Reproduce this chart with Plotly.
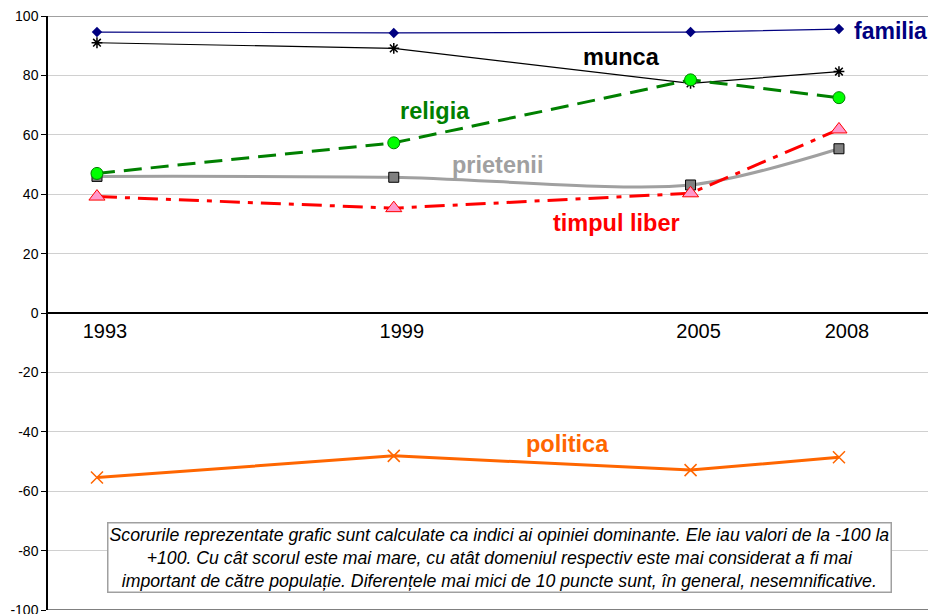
import plotly.graph_objects as go

years = [1993, 1999, 2005, 2008]
year_labels = ["1993", "1999", "2005", "2008"]

familia = [94.6, 94.3, 94.6, 95.6]
munca = [91.0, 89.1, 77.3, 81.3]
religia = [47.0, 57.3, 78.5, 72.5]
prietenii = [46.0, 45.7, 43.1, 55.3]
timpul_liber = [39.2, 35.3, 40.3, 61.8]
politica = [-55.4, -48.1, -52.9, -48.6]

y_ticks = [-100, -80, -60, -40, -20, 0, 20, 40, 60, 80, 100]
y_tick_labels = ["-100", "-80", "-60", "-40", "-20", "0", "20", "40", "60", "80", "100"]

note = ("Scorurile reprezentate grafic sunt calculate ca indici ai opiniei dominante. Ele iau valori de la -100 la<br>"
        "+100. Cu cât scorul este mai mare, cu atât domeniul respectiv este mai considerat a fi mai<br>"
        "important de către populație. Diferențele mai mici de 10 puncte sunt, în general, nesemnificative.")

FONT = "Liberation Sans, Arial, sans-serif"

fig = go.Figure()

fig.add_trace(go.Scatter(x=years, y=familia, mode="lines+markers", name="familia",
                         line=dict(color="#000080", width=1.2),
                         marker=dict(symbol="diamond", size=8, color="#000080")))
fig.add_trace(go.Scatter(x=years, y=munca, mode="lines+markers", name="munca",
                         line=dict(color="#000000", width=1.2),
                         marker=dict(symbol="asterisk-open", size=9, color="#000000",
                                     line=dict(color="#000000", width=1.5))))
fig.add_trace(go.Scatter(x=years, y=prietenii, mode="lines+markers", name="prietenii",
                         line=dict(color="#A0A0A0", width=3, shape="spline", smoothing=0.8),
                         marker=dict(symbol="square", size=10, color="#808080",
                                     line=dict(color="#000000", width=1))))
fig.add_trace(go.Scatter(x=years, y=timpul_liber, mode="lines+markers", name="timpul liber",
                         line=dict(color="#FF0000", width=3, dash="20px,8px,5px,8px"),
                         marker=dict(symbol="triangle-up", size=14, color="#FF99CC",
                                     line=dict(color="#FF0000", width=1))))
fig.add_trace(go.Scatter(x=years, y=religia, mode="lines+markers", name="religia",
                         line=dict(color="#008000", width=3, dash="18px,9px"),
                         marker=dict(symbol="circle", size=12, color="#00FF00",
                                     line=dict(color="#008000", width=1))))
fig.add_trace(go.Scatter(x=years, y=politica, mode="lines+markers", name="politica",
                         line=dict(color="#FF6600", width=3),
                         marker=dict(symbol="x-thin-open", size=12, color="#FF6600",
                                     line=dict(color="#FF6600", width=1.5))))

labels = [
    ("familia", 2008.26, 95, "#000080", "left", 23),
    ("munca", 2003.6, 86.2, "#000000", "center", 23.5),
    ("religia", 1999.83, 68, "#008000", "center", 23.5),
    ("prietenii", 2001.09, 49.8, "#A0A0A0", "center", 23.5),
    ("timpul liber", 2003.51, 30.3, "#FF0000", "center", 23.5),
    ("politica", 2002.52, -44.1, "#FF6600", "center", 23.5),
]
for txt, xx, yy, col, anc, sz in labels:
    fig.add_annotation(x=xx, y=yy, text="<b>%s</b>" % txt, showarrow=False,
                       xanchor=anc, yanchor="middle",
                       font=dict(family=FONT, size=sz, color=col))

fig.add_annotation(x=2001.13, y=-82.3, text="<i>" + note + "</i>", showarrow=False,
                   xanchor="center", yanchor="middle", align="center",
                   bgcolor="#FFFFFF", bordercolor="#A0A0A0", borderwidth=1.5, borderpad=1,
                   font=dict(family=FONT, size=17.7, color="#000000"))

# plot area top and bottom borders
fig.add_shape(type="line", xref="paper", yref="y", x0=0, x1=1, y0=100, y1=100,
              line=dict(color="#A0A0A0", width=2))
fig.add_shape(type="line", xref="paper", yref="y", x0=0, x1=1, y0=-100, y1=-100,
              line=dict(color="#808080", width=2))

fig.update_layout(
    width=928, height=614,
    margin=dict(l=48, r=0, t=16, b=4, autoexpand=False),
    paper_bgcolor="#FFFFFF", plot_bgcolor="#FFFFFF",
    showlegend=False,
    font=dict(family=FONT, color="#000000"),
    xaxis=dict(range=[1992.01, 2009.8], anchor="free", position=0.5,
               tickvals=years, ticktext=year_labels, ticks="",
               showgrid=False, zeroline=False, showline=True,
               linecolor="#000000", linewidth=1.5, automargin=False,
               tickfont=dict(family=FONT, size=20, color="#000000"),
               ticklabelshift=8),
    yaxis=dict(range=[-100, 100], tickvals=y_ticks, ticktext=y_tick_labels,
               ticks="outside", ticklen=5, ticklabeloverflow="allow", automargin=False,
               tickcolor="#000000", showline=True, linecolor="#000000", linewidth=1.5,
               showgrid=True, gridcolor="#D0D0D0", gridwidth=1, zeroline=False,
               tickfont=dict(family=FONT, size=14, color="#000000")),
)

fig.write_html("out.html",
               config={"displayModeBar": False},
               post_script="document.documentElement.style.margin='0';"
                           "document.body.style.margin='0';"
                           "document.body.style.overflow='hidden';")
